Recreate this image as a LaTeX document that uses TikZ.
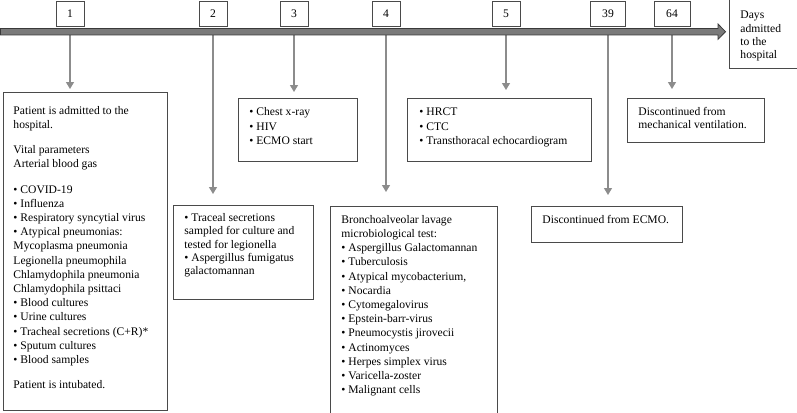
\documentclass[tikz,border=0pt]{standalone}
\usepackage{fontspec}
\setmainfont{Liberation Serif}
\usetikzlibrary{arrows.meta}
\definecolor{boxline}{HTML}{4A4A4A}
\definecolor{conngray}{HTML}{8C8C8C}
\definecolor{barfill}{HTML}{7A7A7A}
\definecolor{barline}{HTML}{3A3A3A}
\newcommand{\fsA}{\fontsize{11.6}{14.2}\selectfont}
\newcommand{\fsB}{\fontsize{11.6}{13.3}\selectfont}
% font, left pad, box width, box height, top pad, text
\newcommand{\boxbody}[6]{\hspace*{#2}\parbox[t][#4][t]{\dimexpr #3-#2\relax}{#1\raggedright\vspace*{#5}\strut #6}}
\newcommand{\bul}{\textbullet\ }
\begin{document}
\begin{tikzpicture}[x=1pt,y=-1pt,
  infobox/.style={draw=boxline, line width=0.9pt, inner sep=0pt, anchor=north west},
  daybox/.style={draw=boxline, line width=0.9pt, inner sep=0pt, minimum height=25pt, font=\fsA},
  conn/.style={draw=conngray, line width=1.2pt, shorten <=9pt, -{Triangle[width=8pt,length=7pt,fill=conngray]}}]
\useasboundingbox (0,0) rectangle (797,412);

% day boxes
\node[daybox, minimum width=28pt] (d1) at (70,13.5) {1};
\node[daybox, minimum width=28pt] (d2) at (213,13.5) {2};
\node[daybox, minimum width=28pt] (d3) at (294,13.5) {3};
\node[daybox, minimum width=28pt] (d4) at (386,13.5) {4};
\node[daybox, minimum width=28pt] (d5) at (506,13.5) {5};
\node[daybox, minimum width=35pt] (d39) at (608,13.5) {39};
\node[daybox, minimum width=36pt] (d64) at (672,13.5) {64};

% days admitted box
\node[infobox] (days) at (729,-1) {\boxbody{\fsB}{11pt}{70pt}{69pt}{10pt}{Days\\admitted\\to the\\hospital}};

% info boxes
\node[infobox] (b1) at (3,92) {\boxbody{\fsA}{10pt}{164pt}{318pt}{12pt}{Patient is admitted to the\\hospital.\\[11pt]Vital parameters\\Arterial blood gas\\[11pt]\bul COVID-19\\\bul Influenza\\\bul Respiratory syncytial virus\\\bul Atypical pneumonias:\\Mycoplasma pneumonia\\Legionella pneumophila\\Chlamydophila pneumonia\\Chlamydophila psittaci\\\bul Blood cultures\\\bul Urine cultures\\\bul Tracheal secretions (C+R)*\\\bul Sputum cultures\\\bul Blood samples\\[11pt]Patient is intubated.}};

\node[infobox] (b2) at (173,205) {\boxbody{\fsB}{11pt}{140pt}{94pt}{6.7pt}{\bul Traceal secretions\\sampled for culture and\\tested for legionella\\\bul Aspergillus fumigatus\\galactomannan}};

\node[infobox] (b3) at (238,98) {\boxbody{\fsA}{11pt}{119pt}{63pt}{7.5pt}{\bul Chest x-ray\\\bul HIV\\\bul ECMO start}};

\node[infobox] (b4) at (330,206) {\boxbody{\fsA}{11pt}{167pt}{212pt}{7pt}{Bronchoalveolar lavage\\microbiological test:\\\bul Aspergillus Galactomannan\\\bul Tuberculosis\\\bul Atypical mycobacterium,\\\bul Nocardia\\\bul Cytomegalovirus\\\bul Epstein-barr-virus\\\bul Pneumocystis jirovecii\\\bul Actinomyces\\\bul Herpes simplex virus\\\bul Varicella-zoster\\\bul Malignant cells}};

\node[infobox] (b5) at (407,98) {\boxbody{\fsA}{12pt}{184pt}{63pt}{7.5pt}{\bul HRCT\\\bul CTC\\\bul Transthoracal echocardiogram}};

\node[infobox] (b39) at (531,206) {\boxbody{\fsA}{11pt}{151pt}{36pt}{6.8pt}{Discontinued from ECMO.}};

\node[infobox] (b64) at (627,98) {\boxbody{\fsB}{11pt}{137pt}{44pt}{7.7pt}{Discontinued from\\mechanical ventilation.}};

% connectors
\draw[conn, shorten >=3pt] (d1.south) -- (d1.south |- b1.north);
\draw[conn, shorten >=11pt] (d2.south) -- (d2.south |- b2.north);
\draw[conn, shorten >=6pt] (d3.south) -- (d3.south |- b3.north);
\draw[conn, shorten >=14pt] (d4.south) -- (d4.south |- b4.north);
\draw[conn, shorten >=8pt] (d5.south) -- (d5.south |- b5.north);
\draw[conn, shorten >=11pt] (d39.south) -- (d39.south |- b39.north);
\draw[conn, shorten >=9pt] (d64.south) -- (d64.south |- b64.north);

% timeline bar
\draw[draw=barline, fill=barfill, line width=0.8pt, line join=miter]
  (0.5,28.5) -- (718,28.5) -- (718,24) -- (725.5,31.7) -- (718,39.4) -- (718,35) -- (0.5,35) -- cycle;
\end{tikzpicture}
\end{document}
